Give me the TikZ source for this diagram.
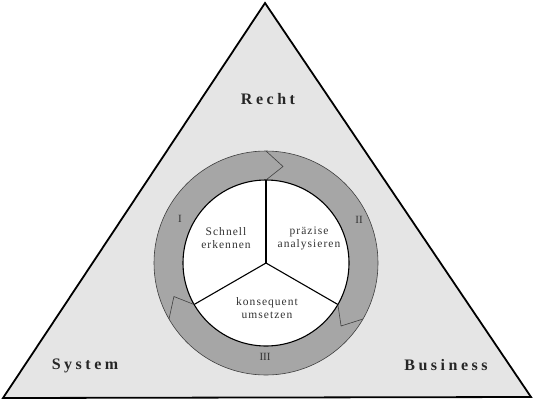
\documentclass[tikz,border=0pt]{standalone}
\usepackage{fontspec}
\usetikzlibrary{calc}
\setmainfont{Liberation Serif}
\newfontfamily\bigfont[LetterSpace=22]{Liberation Serif}
\newfontfamily\smallfont[LetterSpace=9]{Liberation Serif}
\begin{document}
\begin{tikzpicture}[x=1pt,y=1pt,
  corner/.style={font=\bigfont\bfseries\fontsize{16}{18}\selectfont, text=black!85},
  phase/.style={font=\smallfont\fontsize{11.5}{13}\selectfont, text=black!80, align=center, inner sep=0pt},
  roman/.style={font=\fontsize{11}{12}\selectfont, text=black!80, inner sep=0pt}]
\useasboundingbox (0,0) rectangle (534,400);
\definecolor{trifill}{gray}{0.90}
\definecolor{ringfill}{gray}{0.65}
% triangle
\coordinate (apex) at (265,397);
\coordinate (bl) at (3,2);
\coordinate (br) at (531,3);
\draw[line width=1.8pt, fill=trifill, line join=miter] (apex) -- (bl) -- (br) -- cycle;
% ring
\coordinate (c) at (266,137);
\fill[ringfill, even odd rule] (c) circle[radius=112] (c) circle[radius=83];
\draw[line width=0.6pt, black!75] (c) circle[radius=112];
% inner disc
\draw[line width=1.1pt, fill=white] (c) circle[radius=83];
% dividers
\foreach \a in {90,-30,210} {
  \draw[line width=1.1pt] (c) -- ($(c)+(\a:83)$);
}
% chevrons
\foreach \a in {90,-30,210} {
  \draw[line width=0.6pt, black!75, line join=miter]
    ($(c)+(\a:112)$) -- ($(c)+(\a-10:98)$) -- ($(c)+(\a:83)$);
}
% labels
\node[corner] (recht) at (268,301) {Recht};
\node[corner] (system) at (85,34) {System};
\node[corner] (business) at (446,35) {Business};
\node[phase] (erkennen) at (226,162) {Schnell\\erkennen};
\node[phase] (analysieren) at (309,162) {präzise\\analysieren};
\node[phase] (umsetzen) at (267,92) {konsequent\\umsetzen};
\node[roman] (r1) at (180,181) {I};
\node[roman] (r2) at (359,180) {II};
\node[roman] (r3) at (265,43) {III};
\end{tikzpicture}
\end{document}
